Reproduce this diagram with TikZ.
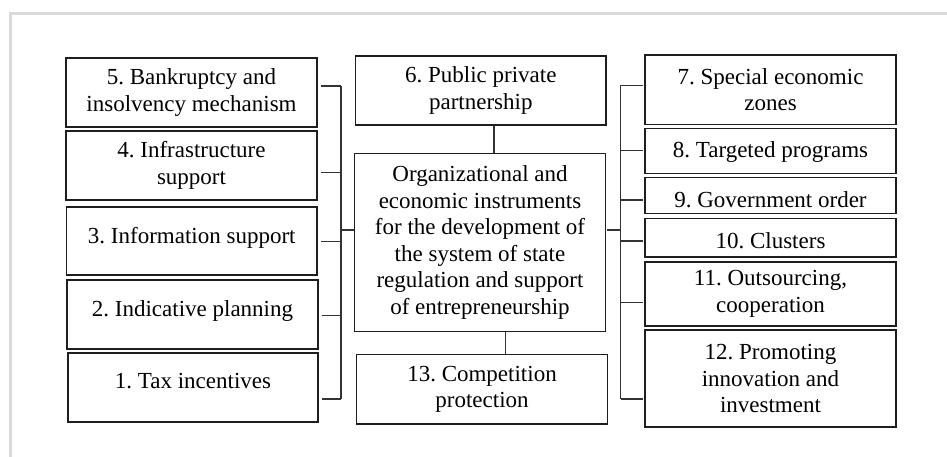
\documentclass[tikz,border=0pt]{standalone}
\usepackage{fontspec}
\setmainfont{Liberation Serif}
\definecolor{boxline}{HTML}{1E1E1E}
\definecolor{linkgray}{HTML}{333333}
\definecolor{framegray}{HTML}{DADADA}
\begin{document}
\frenchspacing
\begin{tikzpicture}[x=1pt,y=-1pt,
  box/.style={draw=boxline, line width=1.6pt, fill=white, inner sep=0pt, align=center,
              font=\fontsize{23}{26.6}\selectfont\frenchspacing},
  wide/.style={minimum width=250.5pt},
  link/.style={draw=linkgray, line width=1.3pt},
  frame/.style={draw=framegray, line width=3pt}]
\useasboundingbox (0,0) rectangle (947,457);

% page frame
\draw[frame] (10,457) -- (10,14) -- (947,14);

% left column
\node[box, wide, minimum height=69pt] (b5) at (191.5,92.5) {5. Bankruptcy and\\insolvency mechanism};
\node[box, wide, minimum height=69pt] (b4) at (191.5,165.5) {4. Infrastructure\\support};
\node[box, wide, minimum height=68pt, text height=16pt, text depth=11.4pt] (b3) at (191.8,241) {3. Information support};
\node[box, wide, minimum height=69pt, text height=16pt, text depth=11.6pt] (b2) at (192.5,314.5) {2. Indicative planning};
\node[box, wide, minimum height=69pt, text height=16pt, text depth=14.4pt] (b1) at (193,387.5) {1. Tax incentives};

% middle column
\node[box, wide, minimum height=69pt] (b6) at (480.8,90.5) {6. Public private\\partnership};
\node[box, minimum width=251pt, minimum height=178pt] (bc) at (480,242.5)
  {Organizational and\\economic instruments\\for the development of\\the system of state\\regulation and support\\of entrepreneurship};
\node[box, minimum width=251pt, minimum height=69.5pt] (b13) at (482,389.3) {13. Competition\\protection};

% right column
\node[box, minimum width=251pt, minimum height=69.5pt] (b7) at (770.5,89.8) {7. Special economic\\zones};
\node[box, minimum width=251pt, minimum height=45pt, text height=16pt, text depth=3.4pt] (b8) at (770.5,151) {8. Targeted programs};
\node[box, minimum width=251pt, minimum height=36pt, text height=23.6pt, text depth=0pt] (b9) at (770.5,195.5) {9. Government order};
\node[box, minimum width=251pt, minimum height=38.5pt, text height=21pt, text depth=0pt] (b10) at (770.5,237.8) {10. Clusters};
\node[box, minimum width=251pt, minimum height=64pt] (b11) at (770.5,294) {11. Outsourcing,\\cooperation};
\node[box, minimum width=251pt, minimum height=97pt] (b12) at (770.5,378.5) {12. Promoting\\innovation and\\investment};

% left bus
\coordinate (L5) at (341,86);
\coordinate (L4) at (341,172.7);
\coordinate (L3) at (341,241.7);
\coordinate (L2) at (341,315.7);
\coordinate (L1) at (341,399);
\coordinate (Lc) at (341,230);
\draw[link] (L5) -- (L1);
\foreach \b/\c in {b5/L5, b4/L4, b3/L3, b2/L2, b1/L1}
  \draw[link, shorten <=3pt] (\b.east |- \c) -- (\c);
\draw[link] (Lc) -- (bc.west |- Lc);

% right bus
\coordinate (R7) at (620.7,85.3);
\coordinate (R8) at (620.7,150.7);
\coordinate (R9) at (620.7,200);
\coordinate (R10) at (620.7,241);
\coordinate (R11) at (620.7,302.3);
\coordinate (R12) at (620.7,399);
\coordinate (Rc) at (620.7,230);
\draw[link] (R7) -- (R12);
\foreach \b/\c in {b7/R7, b8/R8, b9/R9, b10/R10, b11/R11, b12/R12}
  \draw[link, shorten >=1pt] (\c) -- (\b.west |- \c);
\draw[link, shorten <=1pt] (bc.east |- Rc) -- (Rc);

% vertical links of the middle column
\coordinate (T) at (494,0);
\coordinate (B) at (505.7,0);
\draw[link] (b6.south -| T) -- (bc.north -| T);
\draw[link] (bc.south -| B) -- (b13.north -| B);
\end{tikzpicture}
\end{document}
